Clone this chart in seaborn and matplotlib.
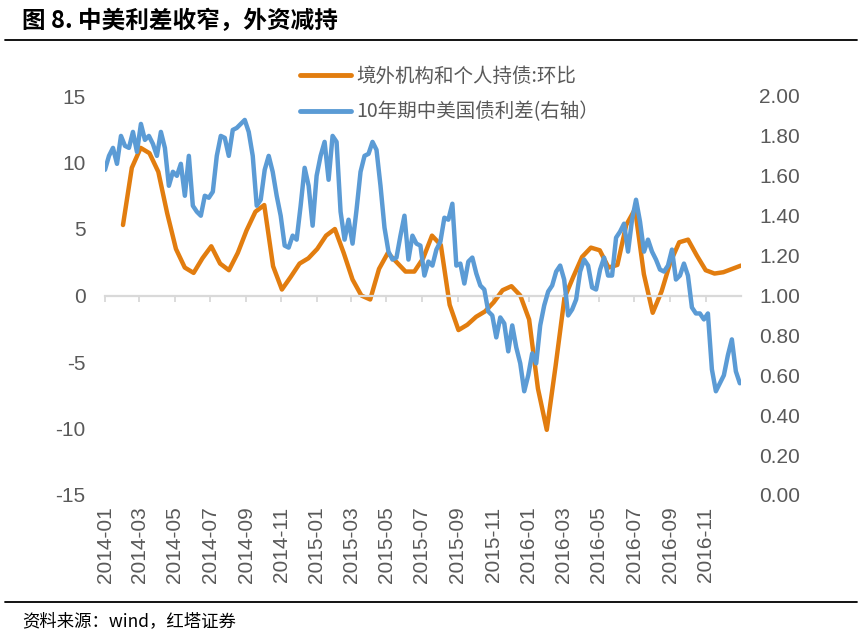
import matplotlib
matplotlib.use('Agg')
import matplotlib.pyplot as plt
from matplotlib.lines import Line2D
import seaborn as sns
import pandas as pd

# ---------------- data ----------------
# 10-year China-US government bond yield spread (right axis), ~weekly
spread_values = [
    1.63, 1.70, 1.74, 1.66, 1.80, 1.75, 1.74, 1.82, 1.72, 1.86,
    1.78, 1.80, 1.76, 1.70, 1.82, 1.74, 1.55, 1.62, 1.60, 1.66,
    1.50, 1.70, 1.45, 1.42, 1.40, 1.50, 1.49, 1.52, 1.70, 1.80,
    1.79, 1.70, 1.83, 1.84, 1.86, 1.88, 1.82, 1.70, 1.45, 1.48,
    1.63, 1.70, 1.62, 1.50, 1.40, 1.25, 1.24, 1.30, 1.28, 1.45,
    1.64, 1.55, 1.35, 1.60, 1.70, 1.77, 1.58, 1.80, 1.77, 1.42,
    1.28, 1.38, 1.26, 1.43, 1.62, 1.70, 1.71, 1.77, 1.73, 1.55,
    1.34, 1.22, 1.18, 1.19, 1.30, 1.40, 1.18, 1.30, 1.26, 1.25,
    1.10, 1.17, 1.15, 1.23, 1.27, 1.39, 1.38, 1.46, 1.15, 1.16,
    1.06, 1.17, 1.19, 1.11, 1.05, 1.03, 0.92, 0.90, 0.79, 0.89,
    0.86, 0.72, 0.85, 0.74, 0.66, 0.52, 0.60, 0.71, 0.66, 0.85,
    0.95, 1.02, 1.05, 1.12, 1.15, 1.08, 0.90, 0.93, 0.98, 1.12,
    1.18, 1.15, 1.04, 1.03, 1.13, 1.19, 1.10, 1.10, 1.29, 1.32,
    1.36, 1.22, 1.38, 1.48, 1.37, 1.22, 1.28, 1.22, 1.18, 1.13,
    1.12, 1.15, 1.23, 1.08, 1.10, 1.16, 1.10, 0.94, 0.91, 0.91,
    0.88, 0.91, 0.63, 0.52, 0.56, 0.60, 0.70, 0.78, 0.62, 0.56,
]
# Foreign institutions & individuals bond holdings, m/m change (left axis), semi-monthly
holding_values = [
    5.3, 9.6, 11.1, 10.7, 9.3, 6.2, 3.5, 2.1, 1.7, 2.8,
    3.7, 2.4, 1.9, 3.2, 4.9, 6.3, 6.8, 2.2, 0.45, 1.4,
    2.4, 2.8, 3.5, 4.5, 5.0, 3.2, 1.2, 0.0, -0.3, 2.0,
    3.2, 2.5, 1.8, 1.8, 2.8, 4.5, 3.8, -0.7, -2.6, -2.2,
    -1.6, -1.2, -0.5, 0.4, 0.7, 0.0, -1.8, -7.0, -10.1, -5.3,
    -0.2, 1.4, 2.9, 3.6, 3.4, 2.1, 2.3, 5.3, 6.5, 1.6,
    -1.3, 0.3, 2.5, 4.0, 4.2, 3.0, 1.9, 1.65, 1.75, 2.0,
    2.25,
]
tick_labels = ['2014-01', '2014-03', '2014-05', '2014-07', '2014-09', '2014-11',
               '2015-01', '2015-03', '2015-05', '2015-07', '2015-09', '2015-11',
               '2016-01', '2016-03', '2016-05', '2016-07', '2016-09', '2016-11']
left_ticks = [-15, -10, -5, 0, 5, 10, 15]
right_ticks = [0.0, 0.2, 0.4, 0.6, 0.8, 1.0, 1.2, 1.4, 1.6, 1.8, 2.0]

series_names = ['境外机构和个人持债:环比', '10年期中美国债利差(右轴）']
title_text = '图 8. 中美利差收窄，外资减持'
source_text = '资料来源：wind，红塔证券'

spread_dates = pd.date_range('2014-01-01', '2016-12-30', periods=len(spread_values))
holding_dates = pd.date_range('2014-02-01', '2017-01-01', periods=len(holding_values))
df_spread = pd.DataFrame({'date': spread_dates, 'value': spread_values})
df_hold = pd.DataFrame({'date': holding_dates, 'value': holding_values})

# ---------------- style ----------------
sns.set_style('white')
plt.rcParams['font.family'] = ['Liberation Sans', 'Noto Sans CJK SC', 'DejaVu Sans']
CJK = ['Noto Sans CJK SC', 'DejaVu Sans']
ORANGE = '#E27D0F'
BLUE = '#5B9BD5'
GREY_TXT = '#595959'
AXIS_GREY = '#D9D9D9'

W, H = 865, 641
fig = plt.figure(figsize=(W / 100, H / 100), dpi=100)
ax = fig.add_axes([105 / W, 1 - 495 / H, (741 - 105) / W, (495 - 96) / H])
ax2 = ax.twinx()

sns.lineplot(data=df_hold, x='date', y='value', ax=ax, color=ORANGE,
             linewidth=3.2, label=series_names[0], legend=False)
sns.lineplot(data=df_spread, x='date', y='value', ax=ax2, color=BLUE,
             linewidth=3.2, label=series_names[1], legend=False)

ax.set_xlim(pd.Timestamp('2014-01-01'), pd.Timestamp('2017-01-01'))
ax.set_ylim(-15, 15)
ax2.set_ylim(0, 2)
ax.set_xlabel('')
ax.set_ylabel('')
ax2.set_ylabel('')

ax.set_yticks(left_ticks)
ax.set_yticklabels([str(v) for v in left_ticks])
ax2.set_yticks(right_ticks)
ax2.set_yticklabels(['%.2f' % v for v in right_ticks])

tick_dates = [pd.Timestamp(t + '-01') for t in tick_labels]
ax.set_xticks(tick_dates)
ax.set_xticklabels(tick_labels)

for s in ['top', 'right', 'left']:
    ax.spines[s].set_visible(False)
for s in ['top', 'right', 'left', 'bottom']:
    ax2.spines[s].set_visible(False)
ax.spines['bottom'].set_position(('data', 0))
ax.spines['bottom'].set_color(AXIS_GREY)
ax.spines['bottom'].set_linewidth(1.6)

ax.tick_params(axis='x', direction='out', length=4, width=1.3, color=AXIS_GREY,
               labelsize=15, labelcolor=GREY_TXT, pad=148, bottom=True,
               labelrotation=90)
ax.tick_params(axis='y', length=0, labelsize=15, labelcolor=GREY_TXT, pad=14, left=False)
ax2.tick_params(axis='y', length=0, labelsize=15, labelcolor=GREY_TXT, pad=13, right=False)
ax.grid(False)
ax2.grid(False)

# legend
h1, l1 = ax.get_legend_handles_labels()
h2, l2 = ax2.get_legend_handles_labels()
leg = fig.legend(h1 + h2, l1 + l2, loc='upper left',
                 bbox_to_anchor=(300 / W, 1 - 66 / H), frameon=False,
                 borderpad=0, borderaxespad=0, handlelength=2.6,
                 handletextpad=0.3, labelspacing=0.75,
                 prop={'family': CJK, 'size': 14})
for t in leg.get_texts():
    t.set_color(GREY_TXT)
for ln in leg.get_lines():
    ln.set_linewidth(3.5)

# title, rules and source
fig.text(22 / W, 1 - 21 / H, title_text, ha='left', va='center',
         fontsize=17, fontweight='bold', family=CJK, color='black')
fig.add_artist(Line2D([5 / W, 857 / W], [1 - 40 / H] * 2, color='black', lw=1.3))
fig.add_artist(Line2D([5 / W, 857 / W], [1 - 602 / H] * 2, color='black', lw=1.3))
fig.text(22 / W, 1 - 621 / H, source_text, ha='left', va='center',
         fontsize=12.5, family=CJK, color='black')

fig.savefig('out.png', dpi=100, facecolor='white')
